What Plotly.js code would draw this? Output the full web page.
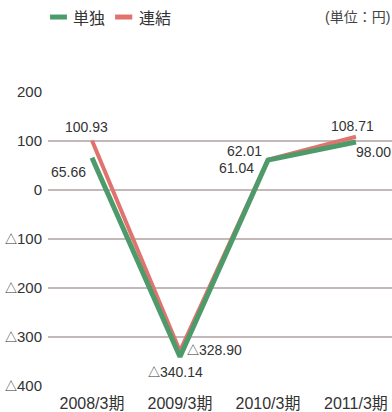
<!DOCTYPE html>
<html><head><meta charset="utf-8">
<script src="https://cdn.plot.ly/plotly-3.0.1.min.js"></script>
<style>html,body{margin:0;padding:0;background:#fff}#c{width:392px;height:412px}</style>
</head><body><div id="c"></div>
<script>
const categories = ["2008/3期", "2009/3期", "2010/3期", "2011/3期"];
const tanDoku = [65.66, -340.14, 61.04, 98.00];
const renketsu = [100.93, -328.90, 62.01, 108.71];
const tanDokuLabels = ["65.66", "△340.14", "61.04", "98.00"];
const renketsuLabels = ["100.93", "△328.90", "62.01", "108.71"];
const yTickVals = [200, 100, 0, -100, -200, -300, -400];
const yTickText = ["200", "100", "0", "△100", "△200", "△300", "△400"];

const FONT = "'Liberation Sans', 'Noto Sans CJK JP', sans-serif";
const CJK = "'Noto Sans CJK JP', sans-serif";
const GREEN = "#4d9a6b";
const RED = "#e0736e";

// shrink the full-width triangle glyph to match the reference's proportions
const smallTri = (s, px) => s.replace("△", "<span style='font-size:" + px + "px'>△</span>");

const xi = categories.map((c, i) => i);

const traces = [
  {x: xi, y: renketsu, type: "scatter", mode: "lines", name: "連結",
   line: {color: RED, width: 4}, showlegend: false},
  {x: xi, y: tanDoku, type: "scatter", mode: "lines", name: "単独",
   line: {color: GREEN, width: 5}, showlegend: false}
];

// label offsets in pixels: [dx, dy] with dy positive = up
const redOff = [[-5, 14], [35, 1], [-23, 9], [-3, 11]];
const greenOff = [[-23, -14], [-4, -15], [-31, -8], [18, -10]];
const annotations = [];
renketsu.forEach((v, i) => annotations.push({x: i, y: v, xref: "x", yref: "y", text: smallTri(renketsuLabels[i], 12),
  showarrow: false, xshift: redOff[i][0], yshift: redOff[i][1], font: {size: 14, color: "#333", family: FONT}}));
tanDoku.forEach((v, i) => annotations.push({x: i, y: v, xref: "x", yref: "y", text: smallTri(tanDokuLabels[i], 12),
  showarrow: false, xshift: greenOff[i][0], yshift: greenOff[i][1], font: {size: 14, color: "#333", family: FONT}}));

// legend (custom)
annotations.push({xref: "paper", yref: "paper", x: 0.068, y: 1.255, xanchor: "left", yanchor: "middle",
  text: "単独", showarrow: false, font: {size: 16, color: "#333", family: CJK}});
annotations.push({xref: "paper", yref: "paper", x: 0.258, y: 1.255, xanchor: "left", yanchor: "middle",
  text: "連結", showarrow: false, font: {size: 16, color: "#333", family: CJK}});
annotations.push({xref: "paper", yref: "paper", x: 1.0, y: 1.255, xanchor: "right", yanchor: "middle",
  text: "(単位：円)", showarrow: false, font: {size: 14, color: "#444", family: FONT}});

const shapes = [
  {type: "line", xref: "paper", yref: "paper", x0: 0.006, x1: 0.055, y0: 1.255, y1: 1.255,
   line: {color: GREEN, width: 5}},
  {type: "line", xref: "paper", yref: "paper", x0: 0.195, x1: 0.245, y0: 1.255, y1: 1.255,
   line: {color: RED, width: 5}}
];

const layout = {
  width: 392, height: 412,
  margin: {l: 48, r: 0, t: 92, b: 26},
  paper_bgcolor: "#fff", plot_bgcolor: "#fff",
  showlegend: false,
  font: {family: FONT, color: "#333"},
  xaxis: {range: [-0.5, 3.41], tickvals: xi, ticktext: categories, showgrid: false, zeroline: false,
    showline: false, ticks: "", ticklabelstandoff: 6, tickfont: {size: 16, color: "#333", family: FONT}, fixedrange: true},
  yaxis: {range: [-400, 200], tickvals: yTickVals, ticktext: yTickText.map(t => smallTri(t, 12)), showgrid: true,
    gridcolor: "#c4b8b8", gridwidth: 1.3, zeroline: false, showline: false, ticks: "",
    ticklabelstandoff: 5, tickfont: {size: 15, color: "#333", family: FONT}, fixedrange: true},
  annotations: annotations,
  shapes: shapes
};

Plotly.newPlot("c", traces, layout, {staticPlot: true, displayModeBar: false});
</script>
</body></html>
